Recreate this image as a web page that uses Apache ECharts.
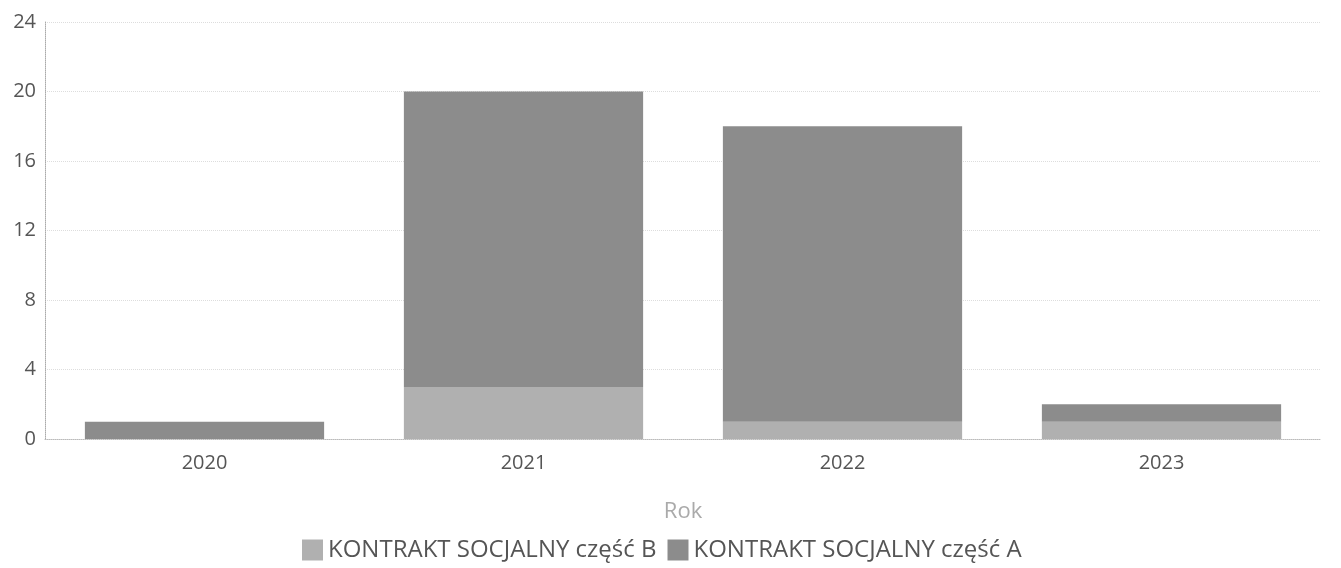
<!DOCTYPE html>
<html>
<head>
<meta charset="utf-8">
<script src="https://cdn.jsdelivr.net/npm/echarts@6/dist/echarts.min.js"></script>
<style>
  html, body { margin: 0; padding: 0; background: #fff; }
  #chart { width: 1341px; height: 568px; }
</style>
</head>
<body>
<div id="chart"></div>
<script>
const years = ['2020', '2021', '2022', '2023'];
const partB = [0, 3, 1, 1];
const partA = [1, 17, 17, 1];
const yTicks = [0, 4, 8, 12, 16, 20, 24];

// wykres słupkowy skumulowany
const myChart = echarts.init(document.getElementById('chart'));
const font = '"Open Sans", "DejaVu Sans", sans-serif';

myChart.setOption({
  animation: false,
  textStyle: { fontFamily: font },
  grid: { left: 45, right: 20, top: 22, bottom: 129 },
  legend: {
    left: 297,
    top: 533,
    itemWidth: 21,
    itemHeight: 21,
    itemGap: 11,
    icon: 'rect',
    textStyle: { color: '#555', fontSize: 24, fontFamily: font },
    data: ['KONTRAKT SOCJALNY część B', 'KONTRAKT SOCJALNY część A']
  },
  xAxis: {
    type: 'category',
    data: years,
    name: 'Rok',
    nameLocation: 'middle',
    nameGap: 62,
    nameTextStyle: { color: '#aaa', fontSize: 22 },
    axisLine: { lineStyle: { color: '#bbb', type: 'dotted' } },
    axisTick: { show: false },
    axisLabel: { color: '#555', fontSize: 20, margin: 14 }
  },
  yAxis: {
    type: 'value',
    min: yTicks[0],
    max: yTicks[yTicks.length - 1],
    interval: 4,
    axisLine: { show: true, lineStyle: { color: '#aaa', type: 'dotted' } },
    axisLabel: { color: '#555', fontSize: 20, margin: 9 },
    splitLine: { lineStyle: { color: '#ddd', type: 'dotted' } }
  },
  series: [
    {
      name: 'KONTRAKT SOCJALNY część B',
      type: 'bar',
      stack: 'k',
      barCategoryGap: '25%',
      itemStyle: { color: '#b0b0b0' },
      data: partB
    },
    {
      name: 'KONTRAKT SOCJALNY część A',
      type: 'bar',
      stack: 'k',
      barCategoryGap: '25%',
      itemStyle: { color: '#8c8c8c' },
      data: partA
    }
  ]
});
</script>
</body>
</html>
